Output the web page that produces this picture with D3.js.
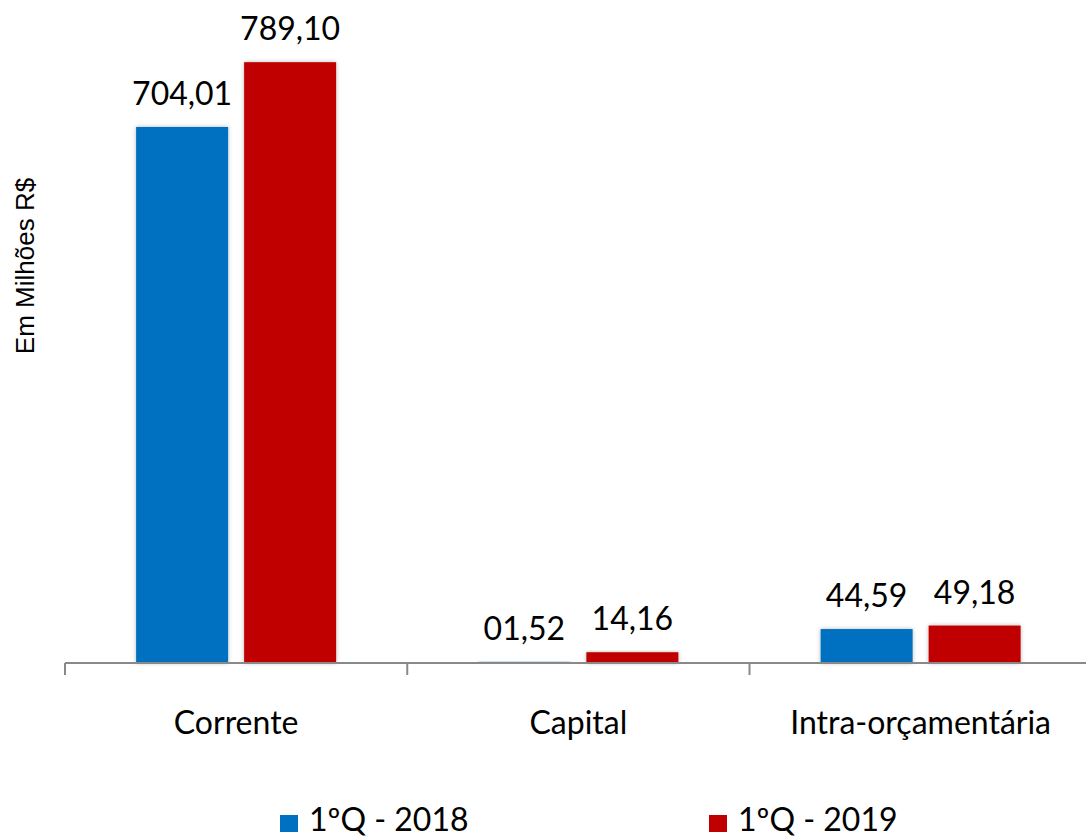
<!DOCTYPE html>
<html><head><meta charset="utf-8">
<script src="https://cdn.jsdelivr.net/npm/d3@7"></script>
<style>body{margin:0;background:#fff}svg{display:block}</style>
</head><body><svg id="c" width="1086" height="840"></svg>
<script>
const categories = ["Corrente", "Capital", "Intra-orçamentária"];
const series = ["1ºQ - 2018", "1ºQ - 2019"];
const values2018 = [704.01, 1.52, 44.59];
const values2019 = [789.10, 14.16, 49.18];
const labels2018 = ["704,01", "01,52", "44,59"];
const labels2019 = ["789,10", "14,16", "49,18"];
const colors = ["#0070C0", "#C00000"];
const yTitle = "Em Milhões R$";

const svg = d3.select("#c");
const font = "Lato, 'Open Sans', sans-serif";
const baseY = 663;
const band = 342.25;
const x0 = d3.scaleBand().domain(categories).range([65, 65 + band * 3]).padding(0);
const x1 = d3.scaleBand().domain(series).range([0, 200]).paddingInner(16 / 108).paddingOuter(0);
const groupOff = (band - 200) / 2;
const y = d3.scaleLinear().domain([0, 800]).range([baseY, baseY - 800 * 0.7614]);

const defs = svg.append("defs");
const f = defs.append("filter").attr("id", "sh").attr("x", "-20%").attr("y", "-20%").attr("width", "140%").attr("height", "140%");
f.append("feDropShadow").attr("dx", 0).attr("dy", 0).attr("stdDeviation", 2.2).attr("flood-color", "#000").attr("flood-opacity", 0.28);

const data = categories.map((c, i) => ({cat: c, vals: [
  {s: series[0], v: values2018[i], l: labels2018[i], c: colors[0]},
  {s: series[1], v: values2019[i], l: labels2019[i], c: colors[1]}]}));

const g = svg.selectAll("g.cat").data(data).join("g").attr("class", "cat")
  .attr("transform", d => `translate(${x0(d.cat) + groupOff},0)`);

g.selectAll("rect").data(d => d.vals).join("rect")
  .attr("x", d => x1(d.s)).attr("width", x1.bandwidth())
  .attr("y", d => y(d.v)).attr("height", d => baseY - y(d.v))
  .attr("fill", d => d.c).attr("filter", "url(#sh)");

g.selectAll("text.lbl").data(d => d.vals).join("text").attr("class", "lbl")
  .attr("x", d => x1(d.s) + x1.bandwidth() / 2).attr("y", d => y(d.v) - 22)
  .attr("text-anchor", "middle").attr("font-family", font).attr("font-size", 32).attr("fill", "#000")
  .text(d => d.l);

// axis
const ax = svg.append("g").attr("transform", `translate(0,${baseY})`)
  .call(d3.axisBottom(x0).tickSize(0).tickFormat(""));
ax.select(".domain").attr("stroke", "#898989").attr("stroke-width", 2).attr("d", `M65,0H${65 + band * 3}`);
const bounds = [0, 1, 2, 3].map(i => 65 + i * band);
ax.selectAll("line.tk").data(bounds).join("line").attr("class", "tk")
  .attr("x1", d => d).attr("x2", d => d).attr("y1", 0).attr("y2", 12)
  .attr("stroke", "#898989").attr("stroke-width", 2);
ax.selectAll("text.cl").data(categories).join("text").attr("class", "cl")
  .attr("x", d => x0(d) + band / 2).attr("y", 71).attr("text-anchor", "middle")
  .attr("font-family", font).attr("font-size", 32).attr("fill", "#000").text(d => d);

// y title
svg.append("text").attr("transform", "translate(34,266) rotate(-90)").attr("text-anchor", "middle")
  .attr("font-family", "'Liberation Sans', Arial, sans-serif").attr("font-size", 26).attr("fill", "#000").text(yTitle);

// legend
const legX = [280, 709];
const lg = svg.selectAll("g.leg").data(series).join("g").attr("class", "leg")
  .attr("transform", (d, i) => `translate(${legX[i]},0)`);
lg.append("rect").attr("x", 0).attr("y", 815).attr("width", 18).attr("height", 17).attr("fill", (d, i) => colors[i]);
lg.append("text").attr("x", 29).attr("y", 831).attr("font-family", font).attr("font-size", 32).attr("fill", "#000").text(d => d);
</script></body></html>
